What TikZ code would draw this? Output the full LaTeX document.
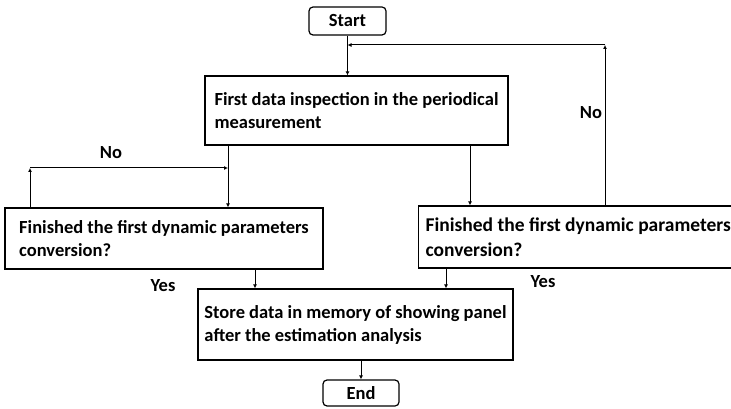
\documentclass[tikz,border=0pt]{standalone}
\usepackage{fontspec}
\setmainfont{Carlito}
\usetikzlibrary{positioning, arrows.meta}

\tikzset{
  box/.style={draw, line width=1.2pt, align=left, inner xsep=0pt,
    font=\bfseries\fontsize{18.5}{23}\selectfont},
  term/.style={box, rounded corners=4pt, align=center},
  flow/.style={-{Latex[length=4pt,width=4pt]}, line width=1pt},
  lab/.style={font=\bfseries\fontsize{18.5}{20}\selectfont}
}

\begin{document}
\begin{tikzpicture}[x=1pt, y=-1pt]
	\useasboundingbox (0,0) rectangle (731,409);

	\node[term, minimum width=77pt, minimum height=28pt] (start) at (347.5,21) {Start};
	\node[box, minimum width=303pt, minimum height=69pt] (inspect) at (356.5,110.5)
		{First data inspection in the periodical\\measurement};
	\node[box, minimum width=318pt, minimum height=61pt] (conv1) at (164,238.5)
		{Finished the first dynamic parameters\\conversion?};
	\node[box, anchor=west, align=flush left, text width=316pt, inner xsep=7pt, minimum height=62pt,
		font=\bfseries\fontsize{19.5}{25}\selectfont] (conv2) at (418,237)
		{Finished the first dynamic parameters\\conversion?};
	\node[box, minimum width=315pt, minimum height=71pt] (store) at (355.5,324.5)
		{Store data in memory of showing panel\\after the estimation analysis};
	\node[term, minimum width=76pt, minimum height=26pt] (end) at (361,393) {End};

	% branch points
	\coordinate (loopR) at (605,45);
	\coordinate (loopL) at (30,168);
	\coordinate (dropL) at (228,0);
	\coordinate (dropR) at (470,0);
	\coordinate (outL) at (255,0);
	\coordinate (outR) at (446,0);

	\draw[flow] (start) -- (start |- inspect.north);
	\draw[flow] (inspect.south -| dropL) -- (conv1.north -| dropL);
	\draw[flow] (inspect.south -| dropR) -- (conv2.north -| dropR);

	\draw[flow] (conv1.north -| loopL) -- (loopL);
	\draw[flow] (loopL) -- (loopL -| dropL);
	\draw[flow] (conv2.north -| loopR) -- (loopR);
	\draw[flow] (loopR) -- (loopR -| start);

	\draw[flow] (conv1.south -| outL) -- (store.north -| outL);
	\draw[flow] (conv2.south -| outR) -- (store.north -| outR);
	\draw[flow] (store.south -| end) -- (end);

	\foreach \n/\x/\y/\t in {noL/111/153/No, noR/591/113/No, yesL/163/286/Yes, yesR/543/282/Yes} {
		\node[lab] (\n) at (\x,\y) {\t};
	};
\end{tikzpicture}
\end{document}
